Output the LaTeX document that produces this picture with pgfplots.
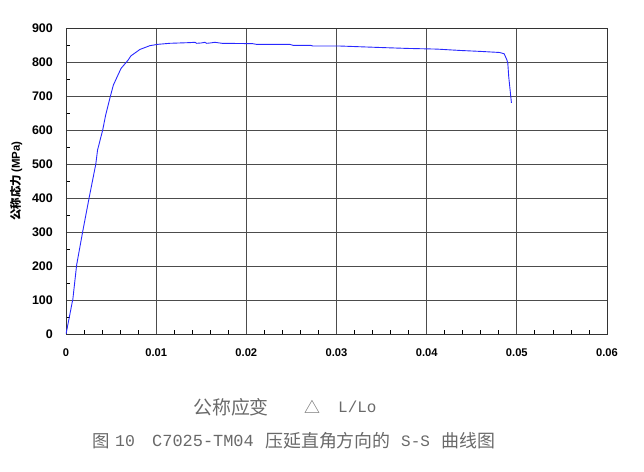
\documentclass[border=0pt]{standalone}
\usepackage{fontspec}
\setmainfont{Liberation Sans}
\newfontfamily\cjk{Noto Sans CJK SC}
\newfontfamily\mono{Liberation Mono}
\usepackage{pgfplots}
\pgfplotsset{compat=1.18}
\definecolor{curve}{RGB}{40,40,255}
\definecolor{captiongray}{RGB}{105,105,105}
\pgfplotstableread{
strain stress
0       0
0.0003  40
0.0007  95
0.00075 100
0.00118 203
0.00185 301
0.00259 404
0.0033  499
0.0035  541
0.00407 600
0.0044  644
0.00496 703
0.00525 732
0.0061  781
0.0069  806
0.0072  818
0.0082  837
0.0093  848
0.0102  852
0.0115  855
0.0137  857
0.0143  858
0.0145  855
0.0150  856
0.0154  858
0.0156  855
0.0160  856
0.0165  858
0.0173  855
0.0207  854
0.0211  852
0.0248  852
0.0252  849
0.0271  849
0.0274  847
0.0304  847
0.0345  843
0.0378  840
0.0411  838
0.0437  834
0.0461  831
0.0481  828
0.0486  824
0.0489  806
0.0490  796
0.0491  757
0.0494  680
}\sscurve
\begin{document}
\begin{tikzpicture}
  \path[use as bounding box] (-66bp,-138bp) rectangle (578bp,334bp);
  \begin{axis}[
    scale only axis,
    width=541bp, height=306bp,
    xmin=0, xmax=0.06,
    ymin=0, ymax=900,
    xtick distance=0.01,
    ytick distance=100,
    minor x tick num=4,
    minor y tick num=1,
    tick align=inside,
    xtick pos=bottom,
    ytick pos=left,
    major tick length=0pt,
    minor tick length=4bp,
    tick style={black, line width=0.8bp},
    grid=major,
    major grid style={black!70, line width=0.9bp},
    axis line style={black!80, line width=0.9bp},
    scaled x ticks=false,
    /pgf/number format/assume math mode=true,
    xticklabel style={font=\bfseries\fontsize{11.2}{13}\selectfont,
      /pgf/number format/fixed, /pgf/number format/precision=2,
      anchor=center, yshift=-19bp},
    yticklabel style={font=\bfseries\fontsize{12.5}{14}\selectfont,
      anchor=east, inner sep=0pt, xshift=-13bp},
    ylabel={{\cjk\bfseries 公称応力}\,{\bfseries(MPa)}},
    ylabel style={at={(axis description cs:-0.0924,0.5)}, anchor=center,
      font=\fontsize{11.5}{13}\selectfont},
  ]
    \addplot[curve, line width=0.9bp, mark=none] table[x=strain, y=stress] {\sscurve};
  \end{axis}
  \begin{scope}[every node/.style={inner sep=0pt, anchor=west, text=captiongray}]
    \node at (127bp,-73bp) {\cjk\fontsize{19}{22}\selectfont 公称应变};
    \node at (238bp,-73bp) {\cjk\fontsize{16}{20}\selectfont △};
    \node at (272bp,-73bp) {\mono\fontsize{16}{20}\selectfont L/Lo};
    \node at (26bp,-107bp) {\cjk\fontsize{17.5}{20}\selectfont 图};
    \node at (49bp,-107bp) {\mono\fontsize{16.5}{20}\selectfont 10};
    \node at (86bp,-107bp) {\mono\fontsize{17}{20}\selectfont C7025-TM04};
    \node at (199bp,-107bp) {\cjk\fontsize{18}{20}\selectfont 压延直角方向的};
    \node at (335bp,-107bp) {\mono\fontsize{16}{20}\selectfont S-S};
    \node at (375bp,-107bp) {\cjk\fontsize{18}{20}\selectfont 曲线图};
  \end{scope}
\end{tikzpicture}
\end{document}
